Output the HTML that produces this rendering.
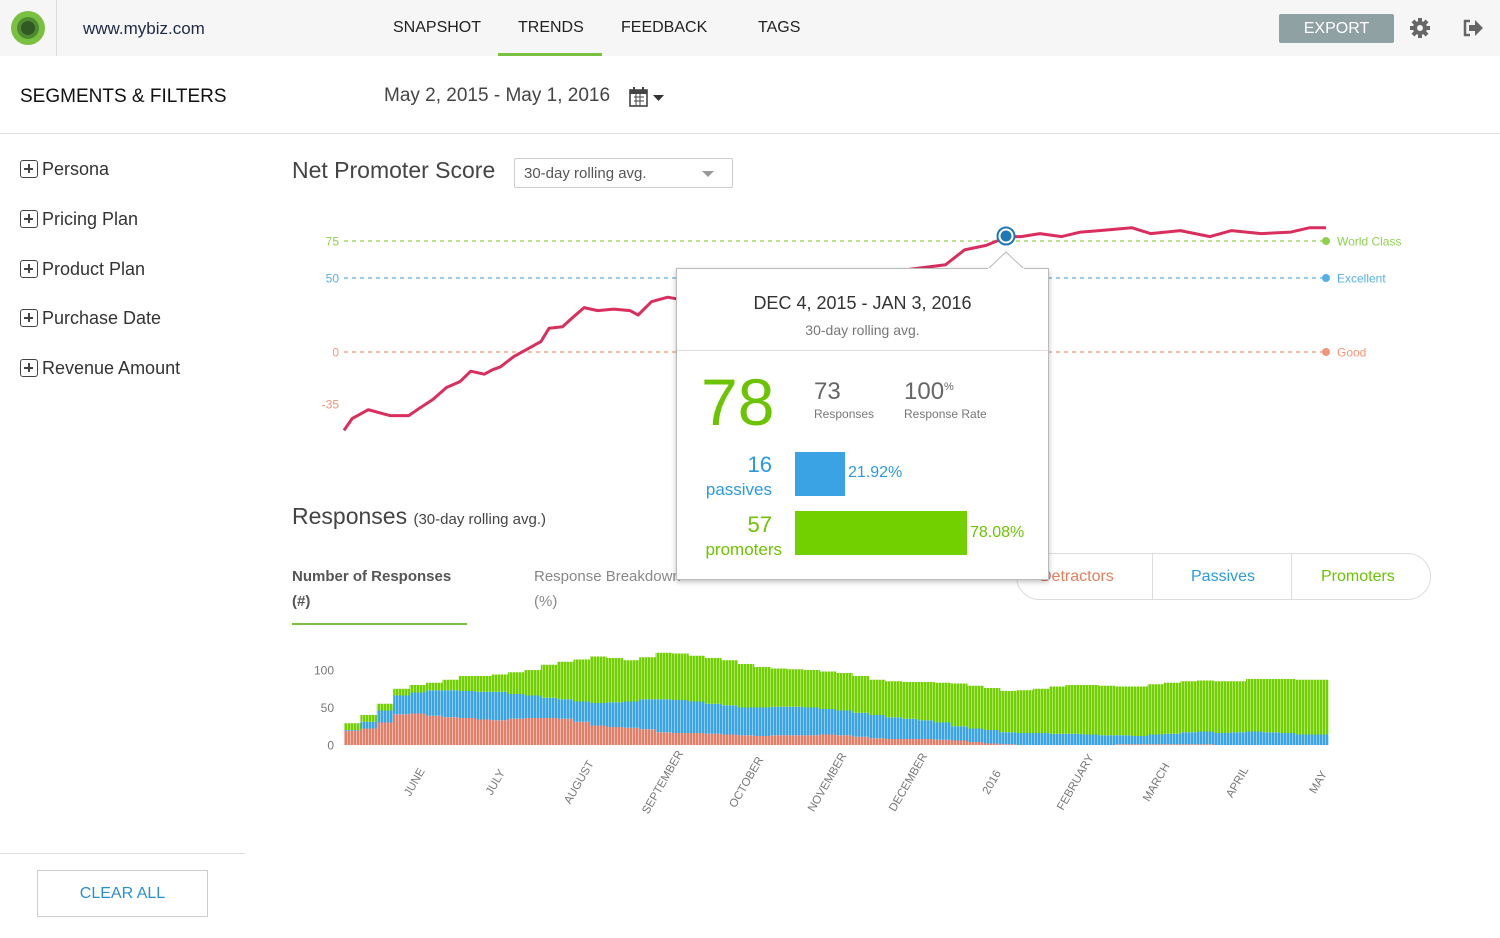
<!DOCTYPE html>
<html><head><meta charset="utf-8">
<style>
*{box-sizing:border-box;margin:0;padding:0}
body{width:1500px;height:938px;position:relative;background:#fff;font-family:"Liberation Sans",sans-serif;color:#333;overflow:hidden}
.abs{position:absolute;white-space:nowrap}
.topbar{position:absolute;left:0;top:0;width:1500px;height:56px;background:#f6f6f6}
.nav{position:absolute;top:19px;font-size:16px;color:#222}
.filter{position:absolute;left:20px;font-size:18px;color:#333}
.filter .box{display:inline-block;width:18px;height:18px;border:1.5px solid #444;border-radius:3px;position:relative;vertical-align:-3px;margin-right:4px}
.filter .box:before{content:"";position:absolute;left:3px;top:7px;width:9px;height:1.5px;background:#444}
.filter .box:after{content:"";position:absolute;left:7px;top:3px;width:1.5px;height:9px;background:#444}
</style></head><body>
<div class="topbar"></div>
<div class="abs" style="left:11px;top:11px;width:34px;height:34px;border-radius:50%;background:#7ac142"><div style="position:absolute;left:6px;top:6px;width:22px;height:22px;border-radius:50%;background:#4f8a32"></div><div style="position:absolute;left:10px;top:10px;width:14px;height:14px;border-radius:50%;background:#2f5a22"></div></div>
<div class="abs" style="left:56px;top:0;width:1px;height:56px;background:#ddd"></div>
<div class="abs" style="left:83px;top:19px;font-size:17px;color:#1e2a44">www.mybiz.com</div>
<div class="nav" style="left:393px">SNAPSHOT</div>
<div class="nav" style="left:518px">TRENDS</div>
<div class="abs" style="left:498px;top:53px;width:104px;height:3px;background:#7ac142"></div>
<div class="nav" style="left:621px">FEEDBACK</div>
<div class="nav" style="left:758px">TAGS</div>
<div class="abs" style="left:1279px;top:14px;width:115px;height:29px;background:#8fa1a3;border-radius:2px;color:#fff;font-size:16px;text-align:center;line-height:29px">EXPORT</div>
<svg class="abs" style="left:1409px;top:17px" width="22" height="22" viewBox="0 0 22 22"><g fill="#666"><circle cx="11" cy="11" r="7"/><rect x="9" y="1" width="4" height="20"/><rect x="1" y="9" width="20" height="4"/><rect x="9" y="1" width="4" height="20" transform="rotate(45 11 11)"/><rect x="9" y="1" width="4" height="20" transform="rotate(-45 11 11)"/></g><circle cx="11" cy="11" r="3" fill="#f6f6f6"/></svg>
<svg class="abs" style="left:1462px;top:19px" width="22" height="18" viewBox="0 0 22 18"><path d="M8 2H3v14h5" stroke="#666" stroke-width="2.5" fill="none"/><path d="M7 6h6V1l8 8-8 8v-5H7z" fill="#666"/></svg>

<div class="abs" style="left:20px;top:86px;font-size:19px;color:#111">SEGMENTS &amp; FILTERS</div>
<div class="abs" style="left:384px;top:85px;font-size:19px;color:#444">May 2, 2015 - May 1, 2016</div>
<svg class="abs" style="left:628px;top:86px" width="40" height="22"><rect x="2" y="4" width="17" height="16" fill="none" stroke="#444" stroke-width="1.6"/><rect x="2" y="4" width="17" height="4" fill="#444"/><path d="M6 11h10M6 15h10M8 8v12M12 8v12" stroke="#444" stroke-width="1"/><rect x="5" y="1" width="2" height="5" fill="#444"/><rect x="14" y="1" width="2" height="5" fill="#444"/><path d="M25 9h11l-5.5 6z" fill="#333"/></svg>
<div class="abs" style="left:0;top:133px;width:1500px;height:1px;background:#ddd"></div>

<div class="filter abs" style="top:159px"><span class="box"></span>Persona</div>
<div class="filter abs" style="top:209px"><span class="box"></span>Pricing Plan</div>
<div class="filter abs" style="top:259px"><span class="box"></span>Product Plan</div>
<div class="filter abs" style="top:308px"><span class="box"></span>Purchase Date</div>
<div class="filter abs" style="top:358px"><span class="box"></span>Revenue Amount</div>
<div class="abs" style="left:0;top:853px;width:245px;height:1px;background:#ddd"></div>
<div class="abs" style="left:37px;top:870px;width:171px;height:47px;border:1px solid #ccc;color:#2a8fd0;font-size:16px;text-align:center;line-height:46px">CLEAR ALL</div>

<div class="abs" style="left:292px;top:157px;font-size:23px;color:#444">Net Promoter Score</div>
<div class="abs" style="left:514px;top:158px;width:219px;height:30px;border:1px solid #ccc;border-radius:2px;font-size:15px;color:#555;padding:6px 0 0 9px">30-day rolling avg.<span style="position:absolute;right:18px;top:12px;border-left:6px solid transparent;border-right:6px solid transparent;border-top:6px solid #999"></span></div>

<svg class="abs" style="left:0;top:0" width="1500" height="938" id="nps"></svg>

<div class="abs" style="left:292px;top:503px;font-size:23px;color:#444">Responses <span style="font-size:15px">(30-day rolling avg.)</span></div>
<div class="abs" style="left:292px;top:564px;font-size:15px;color:#555;line-height:25px;font-weight:bold;white-space:normal;width:180px">Number of Responses<br>(#)</div>
<div class="abs" style="left:292px;top:623px;width:175px;height:2px;background:#7ac142"></div>
<div class="abs" style="left:534px;top:564px;font-size:15px;color:#888;line-height:25px">Response Breakdown<br>(%)</div>
<div class="abs" style="left:1016px;top:553px;width:415px;height:47px;border:1px solid #ddd;border-radius:24px"></div>
<div class="abs" style="left:1040px;top:568px;font-size:16px;color:#e2805e">Detractors</div>
<div class="abs" style="left:1152px;top:553px;width:1px;height:47px;background:#ddd"></div>
<div class="abs" style="left:1191px;top:568px;font-size:16px;color:#2a9ae0">Passives</div>
<div class="abs" style="left:1291px;top:553px;width:1px;height:47px;background:#ddd"></div>
<div class="abs" style="left:1321px;top:568px;font-size:16px;color:#6cc400">Promoters</div>

<svg class="abs" style="left:0;top:0" width="1500" height="938" id="bars"></svg>

<!-- tooltip -->
<div class="abs" style="left:676px;top:268px;width:373px;height:312px;background:#fff;border:1px solid #bbb;box-shadow:0 2px 5px rgba(0,0,0,.25)">
  <div class="abs" style="left:0;top:24px;width:371px;text-align:center;font-size:18px;color:#333">DEC 4, 2015 - JAN 3, 2016</div>
  <div class="abs" style="left:0;top:53px;width:371px;text-align:center;font-size:14px;color:#777">30-day rolling avg.</div>
  <div class="abs" style="left:0;top:81px;width:371px;height:1px;background:#ddd"></div>
  <div class="abs" style="left:24px;top:95px;font-size:66px;color:#6cc400">78</div>
  <div class="abs" style="left:137px;top:109px;font-size:24px;color:#666">73</div>
  <div class="abs" style="left:137px;top:138px;font-size:12px;color:#777">Responses</div>
  <div class="abs" style="left:227px;top:109px;font-size:24px;color:#666">100<sup style="font-size:11px">%</sup></div>
  <div class="abs" style="left:227px;top:138px;font-size:12px;color:#777">Response Rate</div>
  <div class="abs" style="right:276px;top:183px;font-size:22px;color:#2a9ae0;text-align:right">16</div>
  <div class="abs" style="right:276px;top:211px;font-size:17px;color:#2a9ae0">passives</div>
  <div class="abs" style="left:118px;top:183px;width:50px;height:44px;background:#3aa3e3"></div>
  <div class="abs" style="left:171px;top:195px;font-size:16px;color:#2a9ae0">21.92%</div>
  <div class="abs" style="right:276px;top:243px;font-size:22px;color:#6cc400">57</div>
  <div class="abs" style="right:266px;top:271px;font-size:17px;color:#6cc400">promoters</div>
  <div class="abs" style="left:118px;top:242px;width:172px;height:44px;background:#72cf00"></div>
  <div class="abs" style="left:293px;top:255px;font-size:16px;color:#6cc400">78.08%</div>
</div>
<svg class="abs" style="left:988px;top:251px" width="36" height="19"><path d="M0 18L18 1L36 18" fill="#fff" stroke="#bbb"/><rect x="0" y="17" width="36" height="3" fill="#fff"/></svg>
<svg class="abs" style="left:994px;top:224px" width="24" height="24"><circle cx="12" cy="12" r="8.5" fill="#fff" stroke="#1f78b4" stroke-width="2"/><circle cx="12" cy="12" r="5.5" fill="#1f78b4"/></svg>

<script>
// NPS line data (day index 0..365, score)
const npsDays=[0,3,9,17,24,28,33,38,43,47,52,55,58,63,69,73,76,81,84,89,94,100,106,109,114,120,123,132,169,206,223,230,238,246,251,258,266,273,280,292,299,310,321,329,340,351,358,364];
const npsValues=[-53,-45,-39,-43,-43,-38,-32,-24,-20,-13,-15,-12,-10,-3,3,7,16,17,22,30,28,29,28,25,34,37,36,40,48,55,59,69,72,78,78,80,78,81,82,84,80,82,78,82,80,81,84,84];
const refValues=[75,50,0];
const refTickLabels=["75","50","0","-35"];
const refTickValues=[75,50,0,-35];
const refNames=["World Class","Excellent","Good"];
const refColors=["#8fd14f","#5aaee8","#f0957a"];
// Responses stacked data (60 bins across the year)
const detractors=[19,22,30,41,42,39,37,36,34,33,35,36,36,35,31,26,24,23,21,17,16,16,15,14,13,12,13,13,13,14,13,11,9,8,8,8,7,6,4,2,1,0,0,0,0,0,0,1,1,1,1,1,1,0,0,0,0,0,0,0];
const passives=[1,9,16,25,28,34,36,36,37,38,33,30,27,26,27,30,33,35,40,44,44,42,40,39,37,38,38,38,37,34,33,32,31,29,27,25,23,19,18,18,16,16,16,15,15,14,13,12,11,13,14,16,17,16,17,18,17,16,14,14];
const promoters=[9,9,9,9,10,10,14,20,21,23,29,34,44,50,56,62,59,55,56,62,62,61,61,60,58,54,51,50,50,50,50,49,47,48,49,51,53,57,57,56,55,57,59,63,65,66,66,65,66,67,68,68,68,69,68,70,71,72,73,73];
const monthLabels=["JUNE","JULY","AUGUST","SEPTEMBER","OCTOBER","NOVEMBER","DECEMBER","2016","FEBRUARY","MARCH","APRIL","MAY"];
const monthDays=[26,56,87,118,149,179,209,240,271,301,331,361];
const barTicks=[0,50,100];

const NS="http://www.w3.org/2000/svg";
function mk(svg,tag,attrs){const e=document.createElementNS(NS,tag);for(const k in attrs)e.setAttribute(k,attrs[k]);svg.appendChild(e);return e;}
const nps=document.getElementById('nps');
const xDay=d=>344+d*(982/364);
const yN=v=>352-v*1.48;
refValues.forEach((v,i)=>{
  const l=mk(nps,'line',{x1:344,x2:1326,y1:yN(v),y2:yN(v),stroke:refColors[i],'stroke-width':1.2,'stroke-dasharray':'4 4'});
  
  
  const c=mk(nps,'circle',{cx:1326,cy:yN(v),r:4,fill:refColors[i]});
  
  
  const t=mk(nps,'text',{x:1337,y:yN(v)+4.5,'font-size':12,fill:refColors[i]});
  t.textContent=refNames[i];
  
  
});
refTickValues.forEach((v,i)=>{
  const t=mk(nps,'text',{x:339,y:yN(v)+4.5,'font-size':12,'text-anchor':'end',fill:i==0?'#8fd14f':i==1?'#5aaee8':'#f0957a'});
  t.textContent=refTickLabels[i];
  
  
});
const pts=npsDays.map((d,i)=>xDay(d).toFixed(1)+','+yN(npsValues[i]).toFixed(1)).join(' ');
const pl=mk(nps,'polyline',{points:pts,fill:'none',stroke:'#d92e5e','stroke-width':3,'stroke-linejoin':'round'});



const bars=document.getElementById('bars');
const n=detractors.length;
const bw=984/n;
const yB=v=>745-v*0.75;
const defs=mk(bars,'defs',{});
const pat=mk(defs,'pattern',{id:'stripe',width:3,height:10,patternUnits:'userSpaceOnUse'});
mk(pat,'rect',{x:2.2,y:0,width:0.8,height:10,fill:'#fff','fill-opacity':0.55});
for(let i=0;i<n;i++){
  const x=344+i*bw;
  let base=0;
  [[detractors,'#e0806a'],[passives,'#3aa3e3'],[promoters,'#72cf00']].forEach(([arr,col])=>{
    const v=arr[i];
    if(v<=0)return;
    const r=mk(bars,'rect',{x:x,y:yB(base+v),width:bw+0.3,height:v*0.75,fill:col});
    
    
    base+=v;
  });
}
const ov=mk(bars,'rect',{x:344,y:640,width:984,height:106,fill:'url(#stripe)'});


barTicks.forEach(v=>{
  const t=mk(bars,'text',{x:334,y:yB(v)+4.5,'font-size':12,'text-anchor':'end',fill:'#777'});
  t.textContent=String(v);
  
  
});
monthLabels.forEach((m,i)=>{
  const x=xDay(monthDays[i]);
  const t=mk(bars,'text',{x:x,y:786,'font-size':11.5,'text-anchor':'middle',fill:'#777',transform:`rotate(-60 ${x} 782)`});
  t.textContent=m;
  
  
});
</script>
</body></html>
